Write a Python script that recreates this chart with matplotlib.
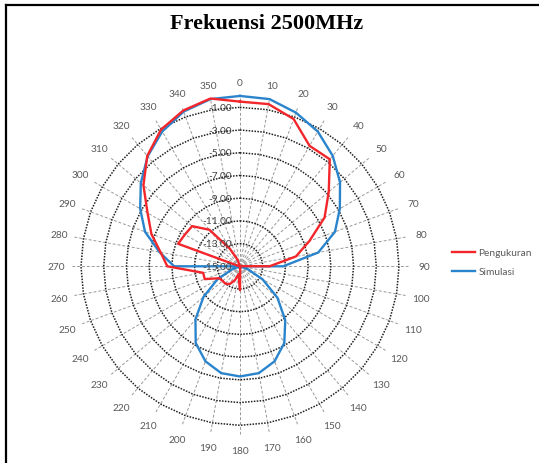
import numpy as np
import matplotlib
matplotlib.use("Agg")
import matplotlib.pyplot as plt
from matplotlib.lines import Line2D

# ---- data ----
angles_deg = list(range(0, 360, 10))
angle_labels = [str(a) for a in angles_deg]
pengukuran = [-0.5, -0.5, -1.2, -2.75, -2.7, -4.8, -6.4, -8.5, -10.0, -12.4,
              -15.1, -20.8, -20.6, -20.5, -19.2, -16.8, -15.6, -14.9, -12.9, -14.3,
              -13.7, -13.2, -13.0, -13.0, -12.9, -11.7, -11.7, -8.6, -7.9, -6.7,
              -5.6, -3.9, -2.3, -1.1, -0.4, 0.0]
simulasi = [0.0, -0.05, -0.6, -1.3, -2.3, -3.5, -4.85, -6.1, -8.0, -11.2,
            -15.0, -14.3, -12.7, -10.7, -8.8, -7.2, -6.1, -5.45, -5.3, -5.45,
            -6.1, -7.2, -8.9, -10.8, -12.7, -14.3, -15.0, -9.2, -7.8, -6.1,
            -4.85, -3.6, -2.35, -1.3, -0.5, -0.05]
ring_values = [-15, -13, -11, -9, -7, -5, -3, -1]
ring_labels = ["-15.00", "-13.00", "-11.00", "-9.00", "-7.00", "-5.00", "-3.00", "-1.00"]
series_names = ["Pengukuran", "Simulasi"]
title = "Frekuensi 2500MHz"

vmin, vmax = -15, -1
W, H = 539, 464
cx, cy = 240.0, 267.3          # pixel centre of the radar
px_per_unit = 159.0 / (vmax - vmin)

fig = plt.figure(figsize=(W / 100, H / 100), dpi=100)
ax = fig.add_axes([0, 0, 1, 1])
ax.set_xlim(-cx / px_per_unit, (W - cx) / px_per_unit)
ax.set_ylim(-(H - cy) / px_per_unit, cy / px_per_unit)
ax.axis("off")

theta = np.deg2rad(angles_deg)


def to_xy(values, closed=True):
    r = np.asarray(values, dtype=float) - vmin
    x = r * np.sin(theta)
    y = r * np.cos(theta)
    if closed:
        x = np.append(x, x[0])
        y = np.append(y, y[0])
    return x, y


# spokes
r_out = vmax - vmin
for t in theta:
    ax.plot([0, (r_out + 0.8) * np.sin(t)], [0, (r_out + 0.8) * np.cos(t)],
            color="#999999", lw=0.7, ls=(0, (3, 2)), zorder=1)

# rings (polygonal, Excel style)
for v in ring_values[1:]:
    x, y = to_xy([v] * len(angles_deg))
    ax.plot(x, y, color="#202020", lw=1.1, ls=(0, (1, 0.9)), zorder=2)

# data
xr, yr = to_xy(pengukuran)
xb, yb = to_xy(simulasi)
l1, = ax.plot(xr, yr, color="#F2262B", lw=1.7, zorder=4, label=series_names[0])
l2, = ax.plot(xb, yb, color="#2A84CC", lw=1.7, zorder=3, label=series_names[1])

# angle labels
r_lab = 184.0 / px_per_unit
for t, lab in zip(theta, angle_labels):
    ax.text(r_lab * np.sin(t), r_lab * np.cos(t), lab, ha="center", va="center",
            fontsize=7.3, color="#595959", family="Lato")

# radial value labels
for v, lab in zip(ring_values, ring_labels):
    ax.text(-0.7, v - vmin, lab, ha="right", va="center", fontsize=7.3,
            color="#404040", family="Lato", zorder=5)

# title
fig.text(267 / W, 1 - 24 / H, title, ha="center", va="center", fontsize=16,
         fontweight="bold", family="Liberation Serif", color="black")

# legend
leg = fig.legend(handles=[l1, l2], loc="upper left",
                 bbox_to_anchor=(452 / W, 1 - 249 / H), frameon=False,
                 handlelength=2.3, handletextpad=0.3,
                 labelspacing=1.0, borderpad=0, borderaxespad=0,
                 prop={"family": "Lato", "size": 7.3})
for txt in leg.get_texts():
    txt.set_color("#595959")

# chart-area border (left and top visible)
fig.add_artist(Line2D([6 / W, 6 / W], [0, 1 - 6 / H], color="black", lw=1.6,
                      transform=fig.transFigure))
fig.add_artist(Line2D([6 / W, 1], [1 - 6 / H, 1 - 6 / H], color="black", lw=1.6,
                      transform=fig.transFigure))

fig.savefig("out.png", dpi=100)
